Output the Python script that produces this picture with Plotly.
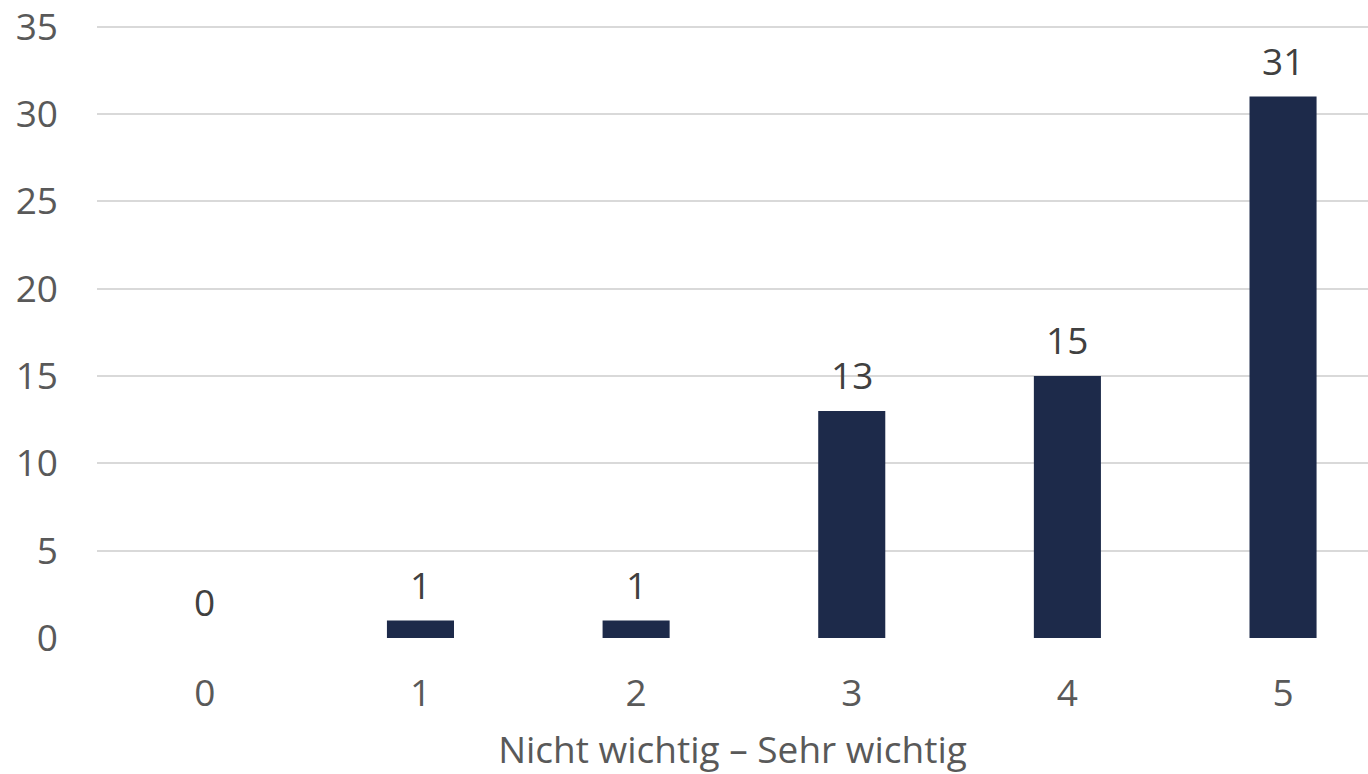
import plotly.graph_objects as go

# Rating scale (0 = not important, 5 = very important) and number of answers
ratings = [0, 1, 2, 3, 4, 5]
counts = [0, 1, 1, 13, 15, 31]
y_ticks = [0, 5, 10, 15, 20, 25, 30, 35]

BAR_COLOR = "#1D2A4A"
TICK_COLOR = "#595959"
LABEL_COLOR = "#404040"
FONT = "Open Sans"
SIZE = 37

fig = go.Figure()
fig.add_trace(
    go.Bar(
        x=ratings,
        y=counts,
        width=0.311,
        marker=dict(color=BAR_COLOR, line=dict(width=0)),
        hoverinfo="x+y",
    )
)

# Value labels above each bar
for r, c in zip(ratings, counts):
    fig.add_annotation(
        x=r, y=c, text=str(c), showarrow=False,
        xanchor="center", yanchor="bottom", yshift=9,
        font=dict(family=FONT, size=SIZE, color=LABEL_COLOR),
    )

fig.update_layout(
    width=1368, height=774,
    margin=dict(l=97, r=0, t=15, b=136),
    paper_bgcolor="white", plot_bgcolor="white",
    showlegend=False,
    font=dict(family=FONT, size=SIZE, color=TICK_COLOR),
    xaxis=dict(
        range=[-0.5, 5.394],
        tickmode="array", tickvals=ratings, ticktext=[str(r) for r in ratings],
        showgrid=False, zeroline=False, showline=False, ticks="",
        ticklabelstandoff=30,
        title=dict(text="Nicht wichtig – Sehr wichtig", standoff=22,
                   font=dict(family=FONT, size=SIZE, color=TICK_COLOR)),
        fixedrange=True,
    ),
    yaxis=dict(
        range=[0, 35.5],
        tickmode="array", tickvals=y_ticks,
        showgrid=True, gridcolor="#D9D9D9", gridwidth=1.5,
        zeroline=False, showline=False, ticks="",
        ticklabelstandoff=38,
        ticklabeloverflow="allow",
        fixedrange=True,
    ),
)

fig.write_html("out.html")
